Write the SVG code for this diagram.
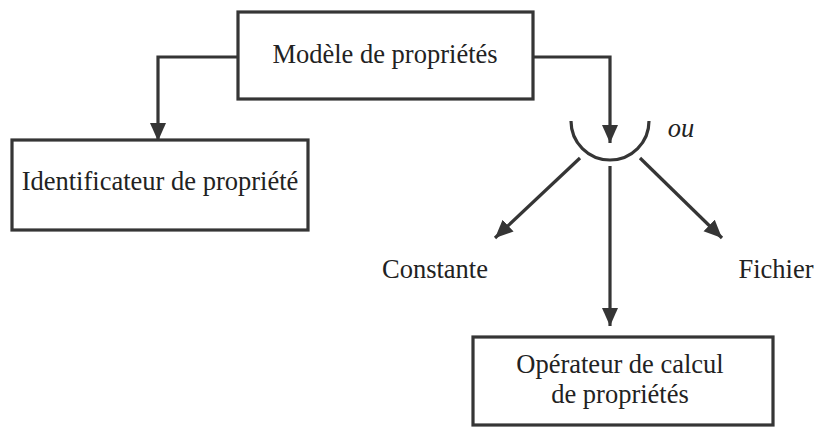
<svg xmlns="http://www.w3.org/2000/svg" width="817" height="427" viewBox="0 0 817 427">
<style>
.box{fill:#fff;stroke:#353535;stroke-width:3.2}
.ln{fill:none;stroke:#353535;stroke-width:3.2}
.t{font-family:"Liberation Serif","Times New Roman",serif;font-size:26.5px;fill:#222;text-anchor:middle}
.it{font-style:italic}
</style>
<defs>
<marker id="ah" markerUnits="userSpaceOnUse" markerWidth="20" markerHeight="18" refX="18" refY="8" orient="auto">
<path d="M0,0 L18,8 L0,16 Z" fill="#353535"/>
</marker>
</defs>
<rect width="817" height="427" fill="#fff"/>
<g id="connectors">
<polyline class="ln" points="238,57 158,57 158,141" marker-end="url(#ah)"/>
<polyline class="ln" points="533,57 610,57 610,143" marker-end="url(#ah)"/>
<path class="ln" d="M571,121 A39,39 0 0 0 649,121"/>
<line class="ln" x1="580" y1="158" x2="495" y2="238" marker-end="url(#ah)"/>
<line class="ln" x1="640" y1="158" x2="722" y2="238" marker-end="url(#ah)"/>
<line class="ln" x1="610" y1="166" x2="610" y2="326" marker-end="url(#ah)"/>
<text class="t it" x="681" y="137">ou</text>
</g>
<g id="modele">
<rect class="box" x="238" y="12" width="295" height="87"/>
<text class="t" x="385" y="63">Modèle de propriétés</text>
</g>
<g id="identificateur">
<rect class="box" x="12" y="140" width="296" height="90"/>
<text class="t" x="160" y="190">Identificateur de propriété</text>
</g>
<g id="constante">
<text class="t" x="435" y="278">Constante</text>
</g>
<g id="fichier">
<text class="t" x="776" y="278">Fichier</text>
</g>
<g id="operateur">
<rect class="box" x="473" y="337" width="300" height="88"/>
<text class="t" x="620" y="373">Opérateur de calcul</text>
<text class="t" x="620" y="403">de propriétés</text>
</g>
</svg>
